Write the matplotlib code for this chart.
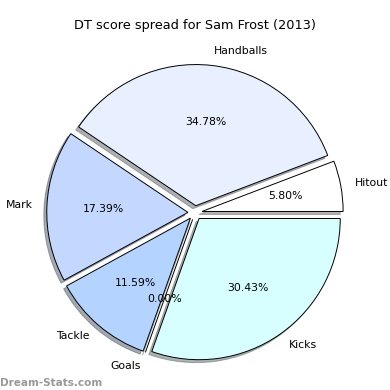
import matplotlib
matplotlib.use('Agg')
import matplotlib.pyplot as plt

labels = ['Hitout', 'Handballs', 'Mark', 'Tackle', 'Goals', 'Kicks']
values = [4, 24, 12, 8, 0, 21]
colors = ['#ffffff', '#e8f0ff', '#c4d8ff', '#b4d4ff', '#b4d4ff', '#d8ffff']
explode = [0.05, 0.05, 0.05, 0.05, 0.05, 0.05]

fig = plt.figure(figsize=(3.9, 3.9), dpi=100)
ax = fig.add_axes([0.0475, 0.002, 0.905, 0.905])
wedges, texts, autotexts = ax.pie(values, labels=labels, colors=colors, explode=explode,
                                  autopct='%1.2f%%',
                                  shadow={'ox': -0.015, 'oy': -0.015, 'shade': 0.6},
                                  startangle=0,
                                  wedgeprops={'edgecolor': 'black', 'linewidth': 0.7},
                                  textprops={'fontsize': 7.8})
ax.set_aspect('equal')
fig.text(0.5, 0.925, 'DT score spread for Sam Frost (2013)', ha='center', fontsize=9.3)
fig.text(0.0, 0.01, 'Dream-Stats.com', ha='left', fontsize=7.5, color='#999999',
         fontweight='bold')

fig.savefig('out.png', dpi=100)
